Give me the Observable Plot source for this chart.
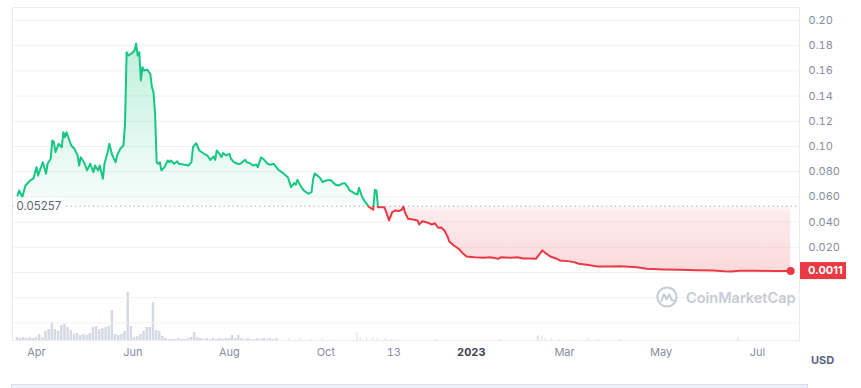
<!DOCTYPE html>
<html><head><meta charset="utf-8">
<script src="https://cdn.jsdelivr.net/npm/d3@7"></script>
<script src="https://cdn.jsdelivr.net/npm/@observablehq/plot@0.6"></script>
<style>
body{margin:0;background:#fff;font-family:Inter,sans-serif;}
#wrap{position:relative;width:861px;height:388px;overflow:hidden;background:#fff;}
#wrap svg.layer{position:absolute;left:0;top:0;}
#wm{position:absolute;left:656px;top:286px;display:flex;align-items:center;gap:8px;color:#c6cbd4;font:600 14.5px Inter,sans-serif;}
#usd{position:absolute;left:811px;top:353px;font:700 11px Inter,sans-serif;color:#58667e;}
#nav{position:absolute;left:11px;top:384px;width:797px;height:12px;background:#eef0fa;border:1px solid #d9ddec;box-sizing:border-box;}
</style></head><body><div id="wrap"></div>
<script>
// ---- price series ----
const priceDates = ["2022-03-20","2022-03-21","2022-03-23","2022-03-25","2022-03-28","2022-03-30","2022-04-01","2022-04-02","2022-04-05","2022-04-07","2022-04-08","2022-04-10","2022-04-11","2022-04-12","2022-04-13","2022-04-15","2022-04-17","2022-04-18","2022-04-19","2022-04-20","2022-04-23","2022-04-25","2022-04-27","2022-04-28","2022-04-29","2022-05-01","2022-05-03","2022-05-05","2022-05-07","2022-05-08","2022-05-10","2022-05-11","2022-05-13","2022-05-14","2022-05-16","2022-05-17","2022-05-19","2022-05-21","2022-05-22","2022-05-24","2022-05-26","2022-05-27","2022-05-28","2022-05-29","2022-05-31","2022-06-02","2022-06-03","2022-06-04","2022-06-05","2022-06-06","2022-06-07","2022-06-08","2022-06-10","2022-06-12","2022-06-13","2022-06-14","2022-06-15","2022-06-16","2022-06-17","2022-06-18","2022-06-19","2022-06-21","2022-06-23","2022-06-24","2022-06-25","2022-06-27","2022-06-29","2022-06-30","2022-07-03","2022-07-06","2022-07-08","2022-07-09","2022-07-11","2022-07-13","2022-07-16","2022-07-18","2022-07-20","2022-07-22","2022-07-23","2022-07-24","2022-07-26","2022-07-27","2022-07-28","2022-07-30","2022-08-01","2022-08-02","2022-08-04","2022-08-06","2022-08-08","2022-08-11","2022-08-12","2022-08-14","2022-08-16","2022-08-18","2022-08-19","2022-08-21","2022-08-23","2022-08-25","2022-08-27","2022-08-29","2022-09-01","2022-09-04","2022-09-07","2022-09-09","2022-09-11","2022-09-12","2022-09-13","2022-09-15","2022-09-17","2022-09-20","2022-09-22","2022-09-23","2022-09-24","2022-09-27","2022-09-29","2022-10-01","2022-10-04","2022-10-07","2022-10-09","2022-10-11","2022-10-13","2022-10-15","2022-10-16","2022-10-19","2022-10-21","2022-10-22","2022-10-24","2022-10-26","2022-10-28","2022-10-30","2022-10-31","2022-11-01","2022-11-02","2022-11-03","2022-11-07","2022-11-08","2022-11-10","2022-11-12","2022-11-14","2022-11-16","2022-11-18","2022-11-19","2022-11-20","2022-11-22","2022-11-26","2022-11-28","2022-11-29","2022-12-01","2022-12-04","2022-12-07","2022-12-09","2022-12-10","2022-12-11","2022-12-13","2022-12-15","2022-12-17","2022-12-18","2022-12-21","2022-12-24","2022-12-27","2022-12-29","2023-01-03","2023-01-09","2023-01-13","2023-01-18","2023-01-20","2023-01-26","2023-01-30","2023-02-03","2023-02-07","2023-02-11","2023-02-15","2023-02-17","2023-02-20","2023-02-24","2023-02-26","2023-03-03","2023-03-07","2023-03-10","2023-03-15","2023-03-22","2023-03-28","2023-04-05","2023-04-16","2023-04-22","2023-05-03","2023-05-13","2023-05-24","2023-06-03","2023-06-10","2023-06-14","2023-06-20","2023-07-01","2023-07-11","2023-07-22"];
const prices = [0.0611,0.0651,0.0598,0.0690,0.0730,0.0744,0.0836,0.0770,0.0875,0.0783,0.0863,0.0902,0.1048,0.1034,0.0955,0.1021,0.0994,0.1113,0.1074,0.1113,0.1008,0.0982,0.0929,0.0849,0.0915,0.0875,0.0810,0.0863,0.0796,0.0849,0.0810,0.0849,0.0744,0.0863,0.0955,0.1021,0.0929,0.0875,0.0929,0.0982,0.1008,0.1180,0.1748,0.1722,0.1736,0.1762,0.1815,0.1722,0.1748,0.1524,0.1629,0.1603,0.1609,0.1577,0.1471,0.1431,0.1260,0.0875,0.0863,0.0875,0.0810,0.0836,0.0889,0.0875,0.0889,0.0863,0.0883,0.0863,0.0857,0.0849,0.0875,0.0994,0.1026,0.0968,0.0942,0.0929,0.0894,0.0921,0.0894,0.0968,0.0937,0.0915,0.0947,0.0929,0.0942,0.0902,0.0875,0.0863,0.0863,0.0894,0.0875,0.0867,0.0849,0.0857,0.0836,0.0915,0.0894,0.0863,0.0855,0.0863,0.0815,0.0788,0.0756,0.0677,0.0709,0.0696,0.0736,0.0687,0.0651,0.0625,0.0637,0.0744,0.0786,0.0756,0.0717,0.0730,0.0734,0.0698,0.0690,0.0704,0.0709,0.0677,0.0651,0.0629,0.0619,0.0672,0.0598,0.0558,0.0524,0.0506,0.0498,0.0656,0.0651,0.0518,0.0518,0.0487,0.0413,0.0479,0.0492,0.0487,0.0498,0.0524,0.0479,0.0426,0.0418,0.0413,0.0381,0.0407,0.0397,0.0381,0.0391,0.0373,0.0355,0.0357,0.0333,0.0286,0.0248,0.0214,0.0188,0.0148,0.0127,0.0121,0.0117,0.0121,0.0109,0.0121,0.0117,0.0121,0.0111,0.0111,0.0109,0.0175,0.0153,0.0127,0.0109,0.0095,0.0090,0.0082,0.0069,0.0061,0.0048,0.0048,0.0050,0.0042,0.0029,0.0024,0.0021,0.0018,0.0016,0.0010,0.0008,0.0013,0.0013,0.0012,0.0011];
const baselinePrice = 0.05257;
const baselineLabel = "0.05257";
const lastPriceLabel = "0.0011";

// ---- volume (relative) ----
const volDenseStart = "2022-03-20";
const volDenseStepDays = 2;
const volDense = [3,2,3,2,3,2,3,6,3,9,11,18,11,9,15,16,13,10,6,7,5,6,5,7,13,14,11,12,13,14,30,6,5,6,9,48,14,3,4,6,9,13,13,38,10,9,4,2,1,1,1,2,1,1,2,3,8,3,2,1,2,1,2,1,2,1,2,2,5,2,5,2,1,2,1,1,2,1,2,1,2,1,2];
const volSparseDates = ["2022-09-08","2022-09-15","2022-09-22","2022-09-29","2022-10-06","2022-10-21","2022-10-23","2022-10-27","2022-10-31","2022-11-03","2022-11-08","2022-11-12","2022-12-10","2023-01-20","2023-02-12","2023-02-13","2023-02-15","2023-02-17","2023-02-21","2023-02-26","2023-03-07","2023-03-16","2023-03-23","2023-04-05","2023-06-19"];
const volSparse = [2,2,1,2,1,8,3,2,3,2,2,1,1,1,4,5,4,2,2,1,1,2,1,1,3];

// ---- axes ----
const xTickDates = ["2022-04-01","2022-06-01","2022-08-01","2022-10-01","2022-11-13","2023-01-01","2023-03-01","2023-05-01","2023-07-01"];
const xTickLabels = ["Apr","Jun","Aug","Oct","13","2023","Mar","May","Jul"];
const yTickValues = [0.02,0.04,0.06,0.08,0.10,0.12,0.14,0.16,0.18,0.20];
const yTickLabels = ["0.020","0.040","0.060","0.080","0.10","0.12","0.14","0.16","0.18","0.20"];
const yGridValues = [-0.04,-0.02,0,0.02,0.04,0.06,0.08,0.10,0.12,0.14,0.16,0.18,0.20];

const GREEN = "#16c784", RED = "#ea3943";
const parse = d3.utcParse("%Y-%m-%d");
const priceData = priceDates.map((d, i) => ({date: parse(d), price: prices[i]}));
const day = 864e5;
const denseStart = parse(volDenseStart);
const volData = [
  ...volDense.map((v, i) => {
    const c = new Date(+denseStart + i * volDenseStepDays * day);
    return {x1: new Date(+c - day), x2: new Date(+c + day), vol: v};
  }),
  ...volSparseDates.map((d, i) => {
    const c = parse(d);
    return {x1: new Date(+c - day / 2), x2: new Date(+c + day / 2), vol: volSparse[i]};
  })
];

const xDomain = [new Date(Date.UTC(2022, 2, 16, 19, 40)), new Date(Date.UTC(2023, 6, 27, 14, 24))];
const yDomain = [-0.054, 0.2103];
const xTickMap = new Map(xTickDates.map((d, i) => [+parse(d), xTickLabels[i]]));
const yTickMap = new Map(yTickValues.map((v, i) => [v.toFixed(4), yTickLabels[i]]));
const dims = {width: 861, height: 383, marginTop: 7, marginRight: 62, marginBottom: 43, marginLeft: 12};

const volPlot = Plot.plot({
  ...dims,
  style: {background: "white"},
  x: {type: "utc", domain: xDomain, axis: null},
  y: {domain: [0, 60], range: [340, 280], axis: null},
  marks: [
    Plot.rectY(volData, {x1: "x1", x2: "x2", y: "vol", fill: "#d4d9e3", insetLeft: 0.35, insetRight: 0.35})
  ]
});

const chart = Plot.plot({
  ...dims,
  style: {background: "transparent", fontFamily: "Inter, sans-serif", fontSize: "11px", color: "#868da1", overflow: "visible"},
  x: {type: "utc", domain: xDomain, ticks: xTickDates.map(parse), tickFormat: d => xTickMap.get(+d) ?? "", tickSize: 0, tickPadding: 8, label: null},
  y: {domain: yDomain, axis: "right", ticks: yTickValues, tickFormat: v => yTickMap.get((+v).toFixed(4)) ?? "", tickSize: 0, tickPadding: 9, label: null},
  marks: [
    Plot.ruleY(yGridValues, {stroke: "#f0f1f4"}),
    Plot.frame({stroke: "#e9ecf0"}),
    Plot.areaY(priceData, {x: "date", y1: baselinePrice, y2: "price", fill: "url(#cmcArea)"}),
    Plot.ruleY([baselinePrice], {stroke: "#9aa1b2", strokeDasharray: "1.2,3.3", strokeWidth: 1}),
    Plot.lineY(priceData, {x: "date", y: "price", stroke: "url(#cmcLine)", strokeWidth: 2, strokeLinejoin: "round", strokeLinecap: "round"}),
    Plot.text([baselinePrice], {y: d => d, frameAnchor: "left", dx: 4, text: () => baselineLabel, textAnchor: "start", fill: "#58667e", fontSize: 11.5, stroke: "white", strokeWidth: 8, paintOrder: "stroke"}),
    Plot.dot([priceData[priceData.length - 1]], {x: "date", y: "price", r: 4, fill: RED})
  ]
});

volPlot.classList.add("layer");
chart.classList.add("layer");

// gradients positioned with the y scale
const ys = chart.scale("y");
const yTop = ys.apply(yDomain[1]), yBot = ys.apply(yDomain[0]);
const frac = v => (ys.apply(v) - yTop) / (yBot - yTop);
const fb = frac(baselinePrice), fpeak = frac(d3.max(prices)), fzero = frac(0);
const defs = d3.select(chart).insert("defs", ":first-child");
const lg = defs.append("linearGradient").attr("id", "cmcLine").attr("gradientUnits", "userSpaceOnUse")
  .attr("x1", 0).attr("x2", 0).attr("y1", yTop).attr("y2", yBot);
[[0, GREEN, 1], [fb, GREEN, 1], [fb, RED, 1], [1, RED, 1]].forEach(([o, c, a]) =>
  lg.append("stop").attr("offset", o).attr("stop-color", c).attr("stop-opacity", a));
const ag = defs.append("linearGradient").attr("id", "cmcArea").attr("gradientUnits", "userSpaceOnUse")
  .attr("x1", 0).attr("x2", 0).attr("y1", yTop).attr("y2", yBot);
[[0, GREEN, 0.3], [fpeak, GREEN, 0.27], [fb, GREEN, 0.03], [fb, RED, 0.03], [fb + 0.02, RED, 0.1], [fzero, RED, 0.19], [1, RED, 0.19]].forEach(([o, c, a]) =>
  ag.append("stop").attr("offset", o).attr("stop-color", c).attr("stop-opacity", a));

// bold year tick
d3.select(chart).selectAll("text").filter(function () { return this.textContent === "2023"; })
  .attr("font-weight", "700").attr("fill", "#3b4252");

// last price tag on the right axis
const last = priceData[priceData.length - 1];
const yl = ys.apply(last.price);
const xr = dims.width - dims.marginRight + 1;
const tag = d3.select(chart).append("g").attr("text-anchor", "start");
tag.append("rect").attr("x", xr).attr("y", yl - 8.5).attr("width", 46).attr("height", 17).attr("fill", RED);
tag.append("text").attr("x", xr + 8).attr("y", yl).attr("dy", "0.35em").attr("fill", "white").attr("text-anchor", "start")
  .attr("font-weight", "700").attr("font-size", 11).attr("font-family", "Inter, sans-serif").text(lastPriceLabel);

const wrap = document.getElementById("wrap");
wrap.appendChild(volPlot);
wrap.appendChild(chart);
wrap.insertAdjacentHTML("beforeend",
  '<div id="wm"><svg width="22" height="22" viewBox="0 0 22 22"><circle cx="11" cy="11" r="9.6" fill="none" stroke="#c6cbd4" stroke-width="2"/><path d="M5.3 14.8 L8 8.2 L10.6 13.2 L13.2 8.2 L15.6 13.6 Q16.6 15.2 17.8 14.2" fill="none" stroke="#c6cbd4" stroke-width="2" stroke-linecap="round" stroke-linejoin="round"/></svg><span>CoinMarketCap</span></div>' +
  '<div id="usd">USD</div><div id="nav"></div>');
</script></body></html>
